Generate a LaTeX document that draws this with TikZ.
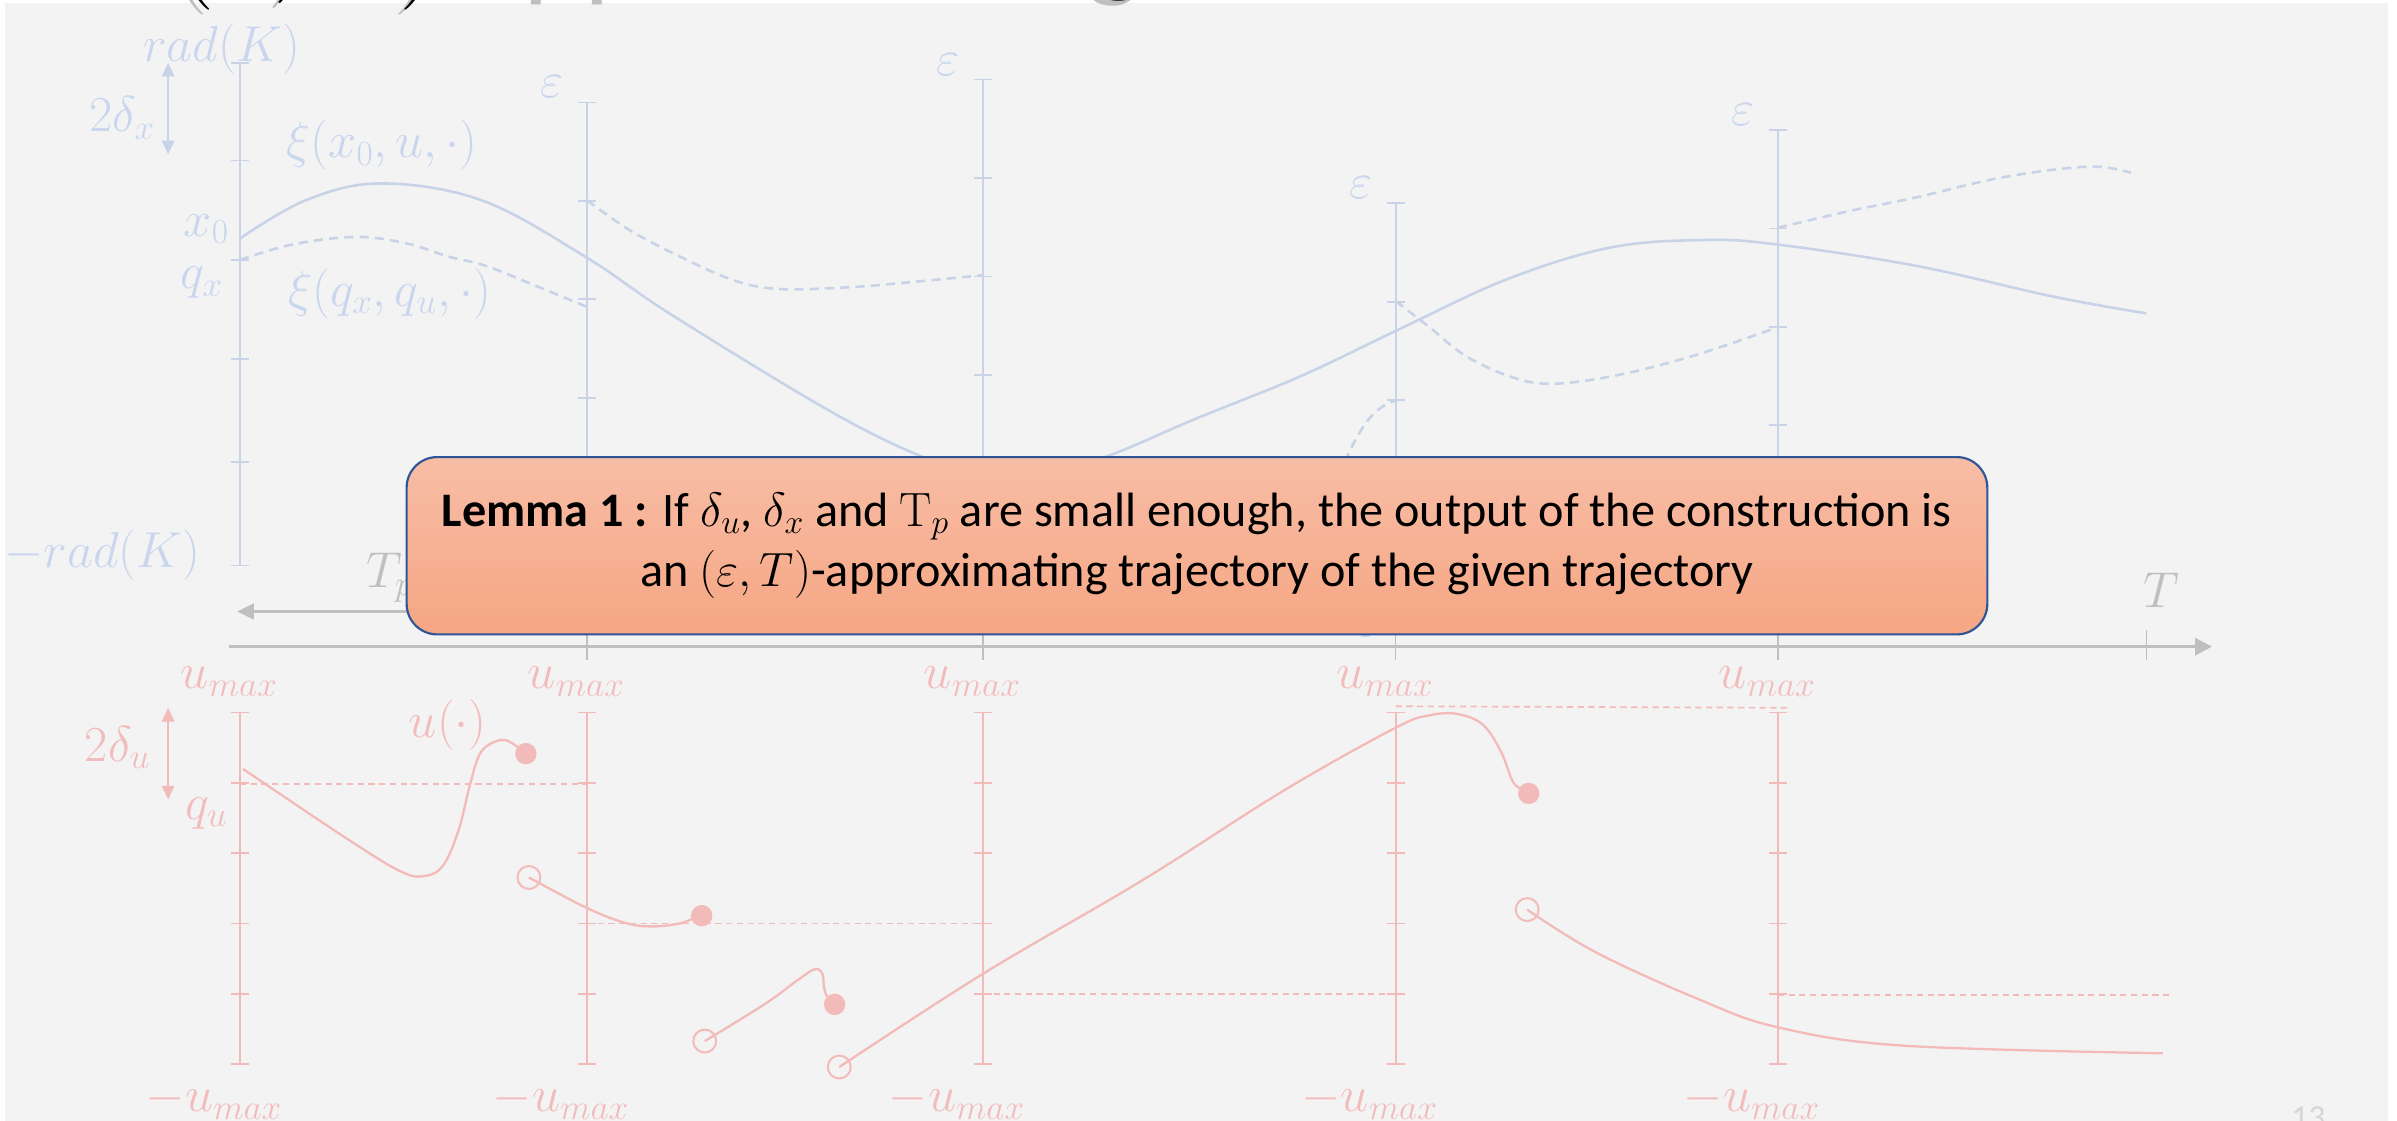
\RequirePackage{fix-cm}
\documentclass[tikz,border=0pt]{standalone}
\usepackage[no-math]{fontspec}
\setmainfont{Carlito}
\usetikzlibrary{arrows.meta}
\definecolor{bg}{HTML}{F3F3F3}
\definecolor{sky}{HTML}{C8D3E8}
\definecolor{skytxt}{HTML}{C9D6EE}
\definecolor{rose}{HTML}{F3BABA}
\definecolor{rosetxt}{HTML}{F3BCBC}
\definecolor{ash}{HTML}{BFBFBF}
\definecolor{pgnum}{HTML}{D6D6D6}
\definecolor{lemtop}{HTML}{F7BDA6}
\definecolor{lembot}{HTML}{F6A683}
\definecolor{lemrim}{HTML}{2F5597}

\begin{document}
\begin{tikzpicture}[x=1pt, y=-1pt,
    skyaxis/.style={draw=sky, line width=1.1},
    skycurve/.style={draw=sky, line width=1.7},
    skydash/.style={skycurve, dash pattern=on 6pt off 4pt},
    skylab/.style={text=skytxt, font=\fontsize{33}{38}\selectfont, inner sep=0pt},
    roseaxis/.style={draw=rose, line width=1.1},
    rosecurve/.style={draw=rose, line width=1.5},
    rosedash/.style={draw=rose, line width=1.1, dash pattern=on 4pt off 3pt},
    roselab/.style={text=rosetxt, font=\fontsize{33}{38}\selectfont, inner sep=0pt},
    hollow/.style={draw=rose, line width=1.3},
    ashlab/.style={text=ash, font=\fontsize{33}{38}\selectfont, inner sep=0pt},
    lemma/.style={draw=lemrim, line width=1.4, rounded corners=20pt,
      top color=lemtop, bottom color=lembot, minimum width=1034pt,
      minimum height=116pt, inner sep=0pt, align=center,
      font=\fontsize{31.5}{39}\selectfont}]
  \useasboundingbox (0,0) rectangle (1568,733);
  \fill[white] (0,0) rectangle (1568,733);
  \fill[bg] (3,2) rectangle (1562,733);

  % slide title, cut by the top edge
  \node[anchor=base west, inner sep=0pt, text=ash, font=\fontsize{75}{80}\selectfont]
    (titleshade) at (110,-9) {$(\varepsilon, T)$-approximating};
  \node[anchor=base west, inner sep=0pt, font=\fontsize{75}{80}\selectfont]
    (title) at (114,-12) {$(\varepsilon, T)$-approximating};

  % state panel: rad(K) axis and the epsilon tubes
  \draw[skyaxis] (157,41) -- (157,370);
  \foreach \y in {41,105,170,235,302,370} \draw[skyaxis] (151,\y) -- (163,\y);
  \foreach \ax/\tp/\n in {384/67/5, 643/52/5, 913/133/4, 1163/85/5} {
    \draw[skyaxis] (\ax,\tp) -- (\ax,\tp+64.4*\n);
    \foreach \k in {0,...,\n} \draw[skyaxis] (\ax-6,\tp+64.4*\k) -- (\ax+6,\tp+64.4*\k);
    \node[skylab] (eps\ax) at (\ax-23,\tp-10) {$\varepsilon$};
  }
  \node[skylab] (epslow) at (895,409) {$\varepsilon$};
  \node[skylab] (radtop) at (145,32) {$rad(K)$};
  \node[skylab] (radbot) at (67,363) {$-rad(K)$};
  \node[skylab] (dx) at (80,77) {$2\delta_x$};
  \draw[sky, line width=1.6, {Triangle[length=9pt,width=8pt]}-{Triangle[length=9pt,width=8pt]}]
    (110,41) -- (110,101);
  \node[skylab] (xzero) at (135,150) {$x_0$};
  \node[skylab] (qx) at (132,185) {$q_x$};
  \node[skylab] (xitrue) at (250,95) {$\xi(x_0,u,\cdot)$};
  \node[skylab] (xiq) at (255,192) {$\xi(q_x,q_u,\cdot)$};

  % true trajectory
  \draw[skycurve] plot[smooth, tension=0.6] coordinates {(157,156) (200,131) (249,120)
    (315,131) (383,168) (441,207) (552,274) (620,305) (665,314) (720,300) (782,274)
    (851,246) (914,216) (985,183) (1053,162) (1115,157) (1163,160) (1254,174)
    (1343,194) (1404,205)};
  % quantized pieces
  \draw[skydash] plot[smooth, tension=0.6] coordinates {(157,170) (191,160) (232,155)
    (265,159) (294,168) (318,174) (353,188) (387,202)};
  \draw[skydash] plot[smooth, tension=0.6] coordinates {(384,131) (411,150) (441,166)
    (479,183) (509,189) (554,188) (591,185) (643,180)};
  \draw[skydash] (643,308) .. controls (780,410) and (860,340) .. (882,297)
    .. controls (892,276) and (900,266) .. (913,262);
  \draw[skydash] plot[smooth, tension=0.6] coordinates {(913,197) (935,214) (959,233)
    (990,247) (1017,251) (1060,245) (1110,232) (1163,214)};
  \draw[skydash] plot[smooth, tension=0.6] coordinates {(1163,149) (1210,138) (1254,129)
    (1310,116) (1366,109) (1394,113)};

  % time axis
  \draw[ash, line width=2.2, -{Triangle[length=11pt,width=11pt]}] (150,423) -- (1447,423);
  \foreach \t in {384,643,913,1163,1404} \draw[ash, line width=1] (\t,412) -- (\t,432);
  \node[ashlab] (tend) at (1414,386) {$T$};
  \draw[ash, line width=2.5, -{Triangle[length=11pt,width=10pt]}] (384,400) -- (155,400);
  \node[ashlab] (tp) at (255,378) {$T_p$};

  % input panel
  \foreach \ax in {157,384,643,913,1163} {
    \draw[roseaxis] (\ax,466) -- (\ax,696);
    \foreach \k in {0,...,5} \draw[roseaxis] (\ax-6,466+46*\k) -- (\ax+6,466+46*\k);
    \node[roselab] (umax\ax) at (\ax-7,446) {$u_{max}$};
    \node[roselab] (umin\ax) at (\ax-17,720) {$-u_{max}$};
  }
  \node[roselab] (du) at (77,489) {$2\delta_u$};
  \draw[rose, line width=1.6, {Triangle[length=9pt,width=8pt]}-{Triangle[length=9pt,width=8pt]}]
    (110,463) -- (110,523);
  \node[roselab] (qu) at (135,532) {$q_u$};
  \node[roselab] (ulab) at (293,474) {$u(\cdot)$};

  % quantized input levels
  \draw[rosedash] (157,513) -- (384,513);
  \draw[rosedash] (384,604) -- (643,604);
  \draw[rosedash] (643,650) -- (913,650);
  \draw[rosedash] (913,462) -- (1170,463);
  \draw[rosedash] (1163,651) -- (1420,651);

  % input pieces
  \draw[rosecurve] plot[smooth, tension=0.6] coordinates {(159,503) (226,548) (262,570)
    (278,573) (290,566) (300,543) (307,515) (313,495) (320,487) (330,484) (339,489)};
  \fill[rose] (344,493) circle[radius=7];
  \draw[hollow] (346,574) circle[radius=7.5];
  \draw[rosecurve] plot[smooth, tension=0.6] coordinates {(346,574) (384,594) (410,604)
    (428,606) (445,604) (455,600)};
  \fill[rose] (459,599) circle[radius=7];
  \draw[hollow] (461,681) circle[radius=7.5];
  \draw[rosecurve] plot[smooth, tension=0.6] coordinates {(461,681) (500,657) (522,641)
    (533,634) (538,637) (539,646) (541,652)};
  \fill[rose] (546,657) circle[radius=7];
  \draw[hollow] (549,698) circle[radius=7.5];
  \draw[rosecurve] plot[smooth, tension=0.6] coordinates {(549,698) (643,637) (747,576)
    (840,517) (913,476) (935,468) (953,467) (970,474) (982,492) (990,512) (998,517)};
  \fill[rose] (1000,519) circle[radius=7];
  \draw[hollow] (999,595) circle[radius=7.5];
  \draw[rosecurve] plot[smooth, tension=0.6] coordinates {(999,595) (1044,623)
    (1112,654) (1163,672) (1245,684) (1415,689)};

  \node[text=pgnum, font=\fontsize{22}{24}\selectfont, anchor=north, inner sep=0pt]
    (pgno) at (1510,724) {13};

  % lemma on top
  \node[lemma] (lem) at (783,357) {\textbf{Lemma 1 :} If $\delta_u$, $\delta_x$ and
    $\mathrm{T}_p$ are small enough, the output of the construction is\\
    an $(\varepsilon,T)$-approximating trajectory of the given trajectory};
\end{tikzpicture}
\end{document}
